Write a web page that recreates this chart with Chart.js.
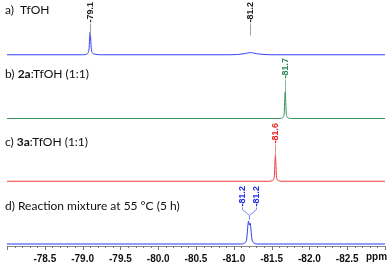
<!DOCTYPE html>
<html>
<head>
<meta charset="utf-8">
<script src="https://cdn.jsdelivr.net/npm/chart.js@4/dist/chart.umd.min.js"></script>
<style>
  html, body { margin: 0; padding: 0; background: #fff; }
</style>
</head>
<body>
<canvas id="nmrChart" width="392" height="264"></canvas>
<script>
// Spectrum a) TfOH : chemical shift (ppm) and intensity
const ppmA = [-78.0, -79.0, -79.05, -79.07, -79.085, -79.1, -79.115, -79.13, -79.16, -79.25, -80.9, -81.05, -81.15, -81.22, -81.3, -81.4, -81.55, -83.0];
const intA = [0, 0, 0.4, 1.5, 6, 23, 6, 1.8, 0.6, 0, 0, 0.3, 1.2, 2.2, 1.1, 0.3, 0, 0];

// Spectrum b) 2a:TfOH (1:1)
const ppmB = [-78.0, -81.6, -81.64, -81.665, -81.68, -81.695, -81.72, -81.76, -83.0];
const intB = [0, 0, 0.6, 4, 27, 4, 0.6, 0, 0];

// Spectrum c) 3a:TfOH (1:1)
const ppmC = [-78.0, -81.47, -81.51, -81.535, -81.55, -81.565, -81.59, -81.63, -83.0];
const intC = [0, 0, 0.6, 4, 26, 4, 0.6, 0, 0];

// Spectrum d) reaction mixture at 55 °C, doublet near -81.2
const ppmD = [-78.0, -81.1, -81.14, -81.17, -81.195, -81.205, -81.215, -81.24, -81.27, -81.32, -83.0];
const intD = [0, 0, 0.8, 5, 23, 19, 21, 5, 0.8, 0, 0];

// Peak labels (ppm position + text)
const peakPpmA = [-79.1, -81.22];
const peakTextA = ["-79.1", "-81.2"];
const peakPpmB = [-81.68];
const peakTextB = ["-81.7"];
const peakPpmC = [-81.55];
const peakTextC = ["-81.6"];
const peakPpmD = [-81.205, -81.205];
const peakTextD = ["-81.2", "-81.2"];

// Axis ticks
const tickStep = 0.1;
const majorStep = 0.5;
const axisMin = -83.0;
const axisMax = -78.0;

const FONT = "'Liberation Sans', Arial, sans-serif";
const TITLE_FONT = "Lato, 'Open Sans', sans-serif";

// Panel layout: offset of each baseline on the y scale, text placement
const panels = [
  { ppm: ppmA, int: intA, base: 192, color: "rgb(55,65,240)", peaks: peakPpmA, texts: peakTextA,
    textColor: "#222", leader: "#999", labelTop: 2, spread: [0, 0], titleY: 10,
    title: [["a)  TfOH", false]] },
  { ppm: ppmB, int: intB, base: 128, color: "rgb(55,145,95)", peaks: peakPpmB, texts: peakTextB,
    textColor: "rgb(40,135,85)", leader: "rgb(120,185,150)", labelTop: 58, spread: [0], titleY: 74,
    title: [["b) ", false], ["2a", true], [":TfOH (1:1)", false]] },
  { ppm: ppmC, int: intC, base: 65, color: "rgb(240,60,60)", peaks: peakPpmC, texts: peakTextC,
    textColor: "rgb(235,30,30)", leader: "rgb(245,130,130)", labelTop: 123, spread: [0], titleY: 142,
    title: [["c) ", false], ["3a", true], [":TfOH (1:1)", false]] },
  { ppm: ppmD, int: intD, base: 2, color: "rgb(45,60,240)", peaks: peakPpmD, texts: peakTextD,
    textColor: "rgb(30,45,235)", leader: "rgb(120,130,245)", labelTop: 186, spread: [-7, 7], titleY: 206,
    title: [["d) Reaction mixture at 55 \u00B0C (5 h)", false]] },
];

// Builds datasets from the arrays, shifted by panel baseline
const datasets = panels.map((p) => ({
  data: p.ppm.map((v, i) => ({ x: v, y: p.int[i] + p.base })),
  borderColor: p.color,
  borderWidth: 1,
  pointRadius: 0,
  fill: false,
  cubicInterpolationMode: "monotone",
}));

// Draws titles, peak labels, tick marks and the "ppm" unit
const annotate = {
  id: "annotate",
  afterDraw(chart) {
    const { ctx, scales: { x } } = chart;
    ctx.save();

    panels.forEach((p) => {
      // panel title (segments may be bold)
      let tx = 5;
      ctx.textBaseline = "middle";
      ctx.textAlign = "left";
      ctx.fillStyle = "#111";
      p.title.forEach(([txt, bold]) => {
        ctx.font = (bold ? "bold " : "") + "12px " + TITLE_FONT;
        ctx.fillText(txt, tx, p.titleY);
        tx += ctx.measureText(txt).width;
      });

      // peak labels, rotated, with leader lines
      ctx.font = "bold 9px " + FONT;
      p.peaks.forEach((ppm, i) => {
        const px = x.getPixelForValue(ppm);
        const lx = px + p.spread[i];
        const w = ctx.measureText(p.texts[i]).width;
        const bottom = p.labelTop + w;

        ctx.save();
        ctx.translate(lx, bottom);
        ctx.rotate(-Math.PI / 2);
        ctx.fillStyle = p.textColor;
        ctx.textAlign = "left";
        ctx.fillText(p.texts[i], 0, 0.5);
        ctx.restore();

        ctx.strokeStyle = p.leader;
        ctx.lineWidth = 1;
        ctx.beginPath();
        ctx.moveTo(Math.round(lx) + 0.5, bottom + 1);
        ctx.lineTo(Math.round(lx) + 0.5, bottom + 3);
        ctx.lineTo(Math.round(px) + 0.5, bottom + 9);
        ctx.lineTo(Math.round(px) + 0.5, bottom + 13);
        ctx.stroke();
      });
    });

    // tick marks: long on 0.5 ppm, short on 0.1 ppm
    const top = chart.chartArea.bottom;
    ctx.strokeStyle = "#777";
    ctx.lineWidth = 1;
    x.ticks.forEach((t) => {
      const k = Math.round(t.value / tickStep);
      const major = k % Math.round(majorStep / tickStep) === 0;
      const px = Math.round(x.getPixelForValue(t.value)) + 0.5;
      ctx.beginPath();
      ctx.moveTo(px, top);
      ctx.lineTo(px, top + (major ? 4 : 2));
      ctx.stroke();
    });

    // unit label
    ctx.font = "bold 10px " + FONT;
    ctx.fillStyle = "#111";
    ctx.textAlign = "left";
    ctx.textBaseline = "middle";
    ctx.fillText("ppm", 366, 257);

    ctx.restore();
  },
};

new Chart(document.getElementById("nmrChart").getContext("2d"), {
  type: "line",
  data: { datasets },
  options: {
    responsive: false,
    animation: false,
    devicePixelRatio: 1,
    layout: { padding: { top: 0, left: 0, right: 0, bottom: -8 } },
    plugins: {
      legend: { display: false },
      tooltip: { enabled: false },
    },
    scales: {
      x: {
        type: "linear",
        min: axisMin,
        max: axisMax,
        reverse: true, // NMR shift runs right to left
        grid: { drawOnChartArea: false, drawTicks: false },
        border: { display: true, color: "#888" },
        ticks: {
          stepSize: tickStep,
          autoSkip: false,
          maxRotation: 0,
          padding: 7,
          color: "#111",
          font: { size: 10, family: FONT, weight: "bold" },
          callback: (value) => {
            const k = Math.round(value / tickStep);
            if (k % 5 !== 0) return "";
            if (value >= axisMax - 0.01 || value <= axisMin + 0.01) return "";
            return value.toFixed(1);
          },
        },
      },
      y: { display: false, min: 0, max: 247 },
    },
  },
  plugins: [annotate],
});
</script>
</body>
</html>
